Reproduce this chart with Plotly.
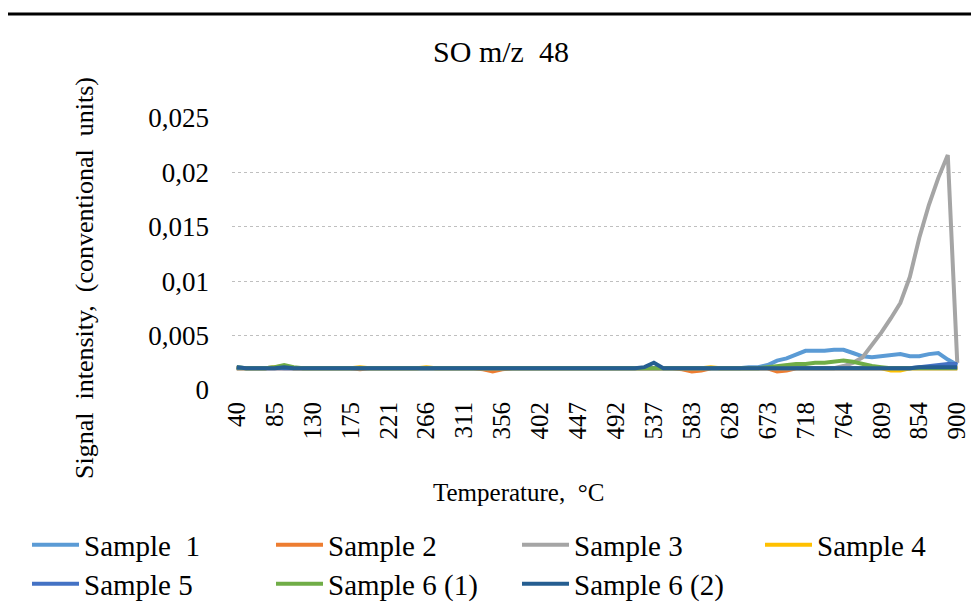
import plotly.graph_objects as go

# Temperature categories (°C), 77 points
TEMPS = [40.0, 51.3, 62.6, 73.9, 85.3, 96.6, 107.9, 119.2, 130.5, 141.8, 153.2,
         164.5, 175.8, 187.1, 198.4, 209.7, 221.1, 232.4, 243.7, 255.0, 266.3, 277.6,
         288.9, 300.3, 311.6, 322.9, 334.2, 345.5, 356.8, 368.2, 379.5, 390.8, 402.1,
         413.4, 424.7, 436.1, 447.4, 458.7, 470.0, 481.3, 492.6, 503.9, 515.3, 526.6,
         537.9, 549.2, 560.5, 571.8, 583.2, 594.5, 605.8, 617.1, 628.4, 639.7, 651.1,
         662.4, 673.7, 685.0, 696.3, 707.6, 718.9, 730.3, 741.6, 752.9, 764.2, 775.5,
         786.8, 798.2, 809.5, 820.8, 832.1, 843.4, 854.7, 866.1, 877.4, 888.7, 900.0]

TICK_VALS = [40.0, 85.3, 130.5, 175.8, 221.1, 266.3, 311.6, 356.8, 402.1, 447.4,
             492.6, 537.9, 583.2, 628.4, 673.7, 718.9, 764.2, 809.5, 854.7, 900.0]
TICK_TEXT = ["40", "85", "130", "175", "221", "266", "311", "356", "402", "447",
             "492", "537", "583", "628", "673", "718", "764", "809", "854", "900"]

Y_TICKS = [0, 0.005, 0.01, 0.015, 0.02, 0.025]
Y_TICK_TEXT = ["0", "0,005", "0,01", "0,015", "0,02", "0,025"]

SAMPLE_1 = [.0021, .0020, .0020, .0020, .0021, .0020, .0020, .0020, .0020, .0020, .0020,
            .0020, .0020, .0020, .0020, .0020, .0020, .0020, .0020, .0020, .0020, .0020,
            .0020, .0020, .0020, .0020, .0020, .0020, .0020, .0020, .0020, .0020, .0020,
            .0020, .0020, .0020, .0020, .0020, .0020, .0020, .0020, .0020, .0020, .0020,
            .0020, .0020, .0020, .0020, .0020, .0020, .0020, .0020, .0020, .0020, .0021,
            .0021, .0023, .0027, .0029, .0033, .0036, .0036, .0036, .0037, .0037, .0034,
            .0031, .0030, .0031, .0032, .0033, .0031, .0031, .0033, .0034, .0028, .0023]

SAMPLE_2 = [.0020, .0020, .0020, .0020, .0020, .0020, .0020, .0020, .0020, .0020, .0020,
            .0020, .0020, .0019, .0020, .0020, .0020, .0020, .0020, .0020, .0020, .0020,
            .0020, .0020, .0020, .0020, .0019, .0017, .0019, .0020, .0020, .0020, .0020,
            .0020, .0020, .0020, .0020, .0020, .0020, .0020, .0020, .0020, .0020, .0020,
            .0020, .0020, .0020, .0019, .0017, .0018, .0020, .0020, .0020, .0020, .0020,
            .0020, .0020, .0017, .0018, .0020, .0020, .0020, .0020, .0020, .0020, .0020,
            .0020, .0020, .0020, .0020, .0020, .0020, .0020, .0020, .0020, .0020, .0020]

SAMPLE_3 = [.0020, .0020, .0020, .0020, .0020, .0020, .0020, .0020, .0020, .0020, .0020,
            .0020, .0020, .0020, .0020, .0020, .0020, .0020, .0020, .0020, .0020, .0020,
            .0020, .0020, .0020, .0020, .0020, .0020, .0020, .0020, .0020, .0020, .0020,
            .0020, .0020, .0020, .0020, .0020, .0020, .0020, .0020, .0020, .0020, .0020,
            .0020, .0020, .0020, .0020, .0020, .0020, .0020, .0020, .0020, .0020, .0020,
            .0020, .0020, .0020, .0020, .0020, .0020, .0020, .0020, .0020, .0022, .0025,
            .0030, .0041, .0053, .0066, .0080, .0104, .0140, .0170, .0195, .0216, .0025]

SAMPLE_4 = [.0020, .0020, .0020, .0020, .0021, .0022, .0020, .0020, .0020, .0020, .0020,
            .0020, .0020, .0021, .0020, .0020, .0020, .0020, .0020, .0020, .0021, .0020,
            .0020, .0020, .0020, .0020, .0020, .0020, .0020, .0020, .0020, .0020, .0020,
            .0020, .0020, .0020, .0020, .0020, .0020, .0020, .0020, .0020, .0020, .0020,
            .0020, .0020, .0020, .0020, .0020, .0020, .0021, .0020, .0020, .0020, .0020,
            .0020, .0020, .0020, .0020, .0020, .0020, .0020, .0020, .0020, .0020, .0020,
            .0020, .0020, .0020, .0018, .0018, .0020, .0020, .0020, .0020, .0020, .0020]

SAMPLE_5 = [.0020, .0020, .0020, .0020, .0020, .0020, .0020, .0020, .0020, .0020, .0020,
            .0020, .0020, .0020, .0020, .0020, .0020, .0020, .0020, .0020, .0020, .0020,
            .0020, .0020, .0020, .0020, .0020, .0020, .0020, .0020, .0020, .0020, .0020,
            .0020, .0020, .0020, .0020, .0020, .0020, .0020, .0020, .0020, .0020, .0020,
            .0020, .0020, .0020, .0020, .0020, .0020, .0020, .0020, .0020, .0020, .0020,
            .0020, .0020, .0020, .0020, .0020, .0020, .0020, .0020, .0020, .0020, .0020,
            .0020, .0020, .0020, .0020, .0020, .0020, .0021, .0022, .0023, .0024, .0024]

SAMPLE_6_1 = [.0021, .0020, .0020, .0020, .0021, .0023, .0021, .0020, .0020, .0020, .0020,
              .0020, .0020, .0020, .0020, .0020, .0020, .0020, .0020, .0020, .0020, .0020,
              .0020, .0020, .0020, .0020, .0020, .0020, .0020, .0020, .0020, .0020, .0020,
              .0020, .0020, .0020, .0020, .0020, .0020, .0020, .0020, .0020, .0020, .0020,
              .0020, .0020, .0020, .0020, .0020, .0020, .0020, .0020, .0020, .0020, .0020,
              .0020, .0021, .0022, .0023, .0024, .0024, .0025, .0025, .0026, .0027, .0026,
              .0024, .0022, .0021, .0020, .0020, .0020, .0020, .0020, .0020, .0020, .0020]

SAMPLE_6_2 = [.0021, .0020, .0020, .0020, .0020, .0021, .0020, .0020, .0020, .0020, .0020,
              .0020, .0020, .0020, .0020, .0020, .0020, .0020, .0020, .0020, .0020, .0020,
              .0020, .0020, .0020, .0020, .0020, .0020, .0020, .0020, .0020, .0020, .0020,
              .0020, .0020, .0020, .0020, .0020, .0020, .0020, .0020, .0020, .0020, .0021,
              .0025, .0020, .0020, .0020, .0020, .0020, .0020, .0020, .0020, .0020, .0020,
              .0020, .0020, .0020, .0020, .0020, .0020, .0020, .0020, .0020, .0020, .0020,
              .0020, .0020, .0020, .0020, .0020, .0020, .0021, .0021, .0021, .0021, .0021]

NBSP = "\u00a0"
SERIES = [
    ("Sample" + NBSP + NBSP + "1", SAMPLE_1, "#5B9BD5"),
    ("Sample 2", SAMPLE_2, "#ED7D31"),
    ("Sample 3", SAMPLE_3, "#A5A5A5"),
    ("Sample 4", SAMPLE_4, "#FFC000"),
    ("Sample 5", SAMPLE_5, "#4472C4"),
    ("Sample 6 (1)", SAMPLE_6_1, "#70AD47"),
    ("Sample 6 (2)", SAMPLE_6_2, "#255E91"),
]

# The page body adds an 8px offset; the figure is sized to fill the rest of the window.
OFF = 8
W, H = 979 - OFF, 606 - OFF
# plot area in page pixels: x 232..962, y 118..390
PL, PR, PT, PB = 232, 962, 118, 390
L, T = PL - OFF, PT - OFF
R, B = W - (PR - OFF), H - (PB - OFF)
PW, PH = PR - PL, PB - PT
FONT = "Liberation Serif, Times New Roman, serif"

def px_x(x):
    return (x - PL) / PW

def px_y(y):
    return (PB - y) / PH

# legend anchor positions in page pixels (left edge, row centre)
LEG_POS = [(27, 545), (271, 545), (517, 545), (760, 545),
           (27, 584), (271, 584), (517, 584)]

fig = go.Figure()
layout_legends = {}
for k, (name, vals, color) in enumerate(SERIES):
    lname = "legend" if k == 0 else f"legend{k + 1}"
    fig.add_trace(go.Scatter(
        x=TEMPS, y=vals, mode="lines", name=name,
        line=dict(color=color, width=4),
        legend=lname, hoverinfo="skip"))
    lx, ly = LEG_POS[k]
    layout_legends[lname] = dict(
        x=px_x(lx), y=px_y(ly), xanchor="left", yanchor="middle",
        orientation="h", itemwidth=47, bgcolor="rgba(0,0,0,0)",
        font=dict(family=FONT, size=29, color="#000000"))

fig.update_layout(**layout_legends)

fig.update_layout(
    width=W, height=H,
    margin=dict(l=L, r=R, t=T, b=B, autoexpand=False),
    paper_bgcolor="white", plot_bgcolor="white",
    showlegend=True,
    title=dict(text="SO m/z" + NBSP + NBSP + "48", x=(501 - OFF) / W, xanchor="center",
               y=1 - (51 - OFF) / H, yanchor="middle",
               font=dict(family=FONT, size=30, color="#000000")),
    xaxis=dict(range=[34.34, 905.66], tickmode="array", tickvals=TICK_VALS,
               ticktext=TICK_TEXT, tickangle=-90, showgrid=False, zeroline=False,
               showline=False, ticks="", ticklabelstandoff=6,
               tickfont=dict(family=FONT, size=25, color="#000000")),
    yaxis=dict(range=[0, 0.025], tickmode="array", tickvals=Y_TICKS,
               ticktext=Y_TICK_TEXT, showgrid=True, gridcolor="#BFBFBF",
               griddash="dot", gridwidth=1, zeroline=False, showline=False,
               ticks="", ticklabelstandoff=22,
               tickfont=dict(family=FONT, size=27, color="#000000")),
)

fig.add_annotation(text="Signal" + NBSP + NBSP + "intensity," + NBSP + NBSP + "(conventional"
                   + NBSP + NBSP + "units)",
                   xref="paper", yref="paper", x=px_x(84), y=px_y(278),
                   textangle=-90, showarrow=False, xanchor="center", yanchor="middle",
                   font=dict(family=FONT, size=26, color="#000000"))
fig.add_annotation(text="Temperature," + NBSP + NBSP + "°C",
                   xref="paper", yref="paper", x=px_x(518), y=px_y(492),
                   showarrow=False, xanchor="center", yanchor="middle",
                   font=dict(family=FONT, size=25, color="#000000"))

# page rule at the top
fig.add_shape(type="line", xref="paper", yref="paper",
              x0=px_x(OFF), x1=px_x(979), y0=px_y(14), y1=px_y(14),
              line=dict(color="#000000", width=3))

fig.write_html("out.html")
